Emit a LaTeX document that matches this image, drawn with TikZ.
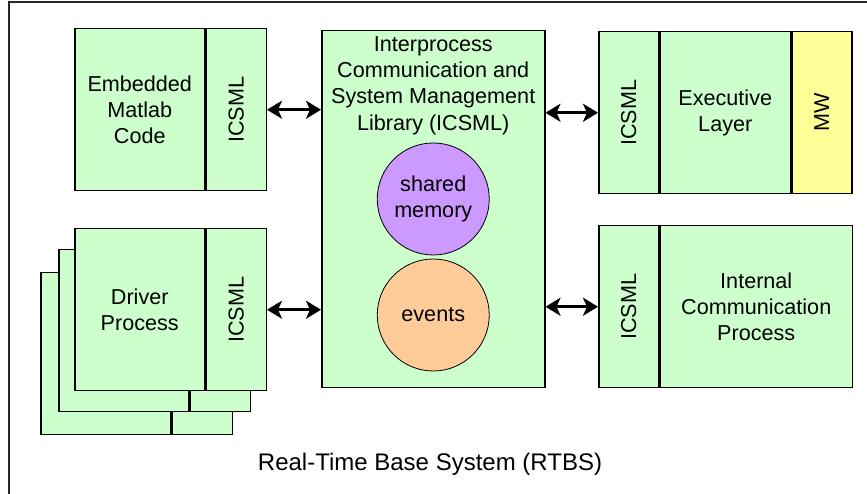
\documentclass[tikz,border=0pt]{standalone}
\usepackage{fontspec}
\setmainfont{Liberation Sans}
\usetikzlibrary{arrows.meta,calc}
\definecolor{BlockClr}{HTML}{CCFFCC}
\definecolor{MwClr}{HTML}{FFFF99}
\definecolor{ShmClr}{HTML}{CC99FF}
\definecolor{EvtClr}{HTML}{FFCC99}

\begin{document}
\begin{tikzpicture}[x=1pt,y=1pt,
  txt/.style={align=center,font=\fontsize{21.6}{26.3}\selectfont},
  blk/.style={txt,draw=black,line width=1.5pt,fill=BlockClr,inner sep=0pt},
  body/.style={blk,minimum height=162pt},
  strip/.style={blk,minimum width=60pt,minimum height=162pt},
  circ/.style={txt,circle,draw=black,line width=0.8pt,minimum size=112pt,inner sep=0pt},
  link/.style={{Stealth[length=15pt,width=18pt,inset=4pt]}-{Stealth[length=15pt,width=18pt,inset=4pt]},line width=3pt}]
\useasboundingbox (0,0) rectangle (867,494);

\draw[line width=2pt,draw=black!85] (9,0) |- (867,492);

% embedded matlab code
\node[body,minimum width=130pt,anchor=north west] (emb) at (74,466) {Embedded\\Matlab\\Code};
\node[strip,anchor=west] (embI) at (emb.east) {\rotatebox{90}{ICSML}};

% driver processes, stacked
\foreach \dx/\dy [count=\i] in {34/44,16/21}{
  \node[body,minimum width=130pt,anchor=north west] (drv\i) at ($(74,266)-(\dx,\dy)$) {};
  \node[strip,anchor=west] (drvI\i) at (drv\i.east) {};
}
\node[body,minimum width=130pt,anchor=north west] (drv) at (74,266) {Driver\\Process};
\node[strip,anchor=west] (drvI) at (drv.east) {\rotatebox{90}{ICSML}};

% library
\node[blk,minimum width=223pt,minimum height=357pt,anchor=north west] (ipc) at (321,464) {};
\node[txt] (ipcT) at ($(ipc.north)+(0,-55.5)$) {Interprocess\\Communication and\\System Management\\Library (ICSML)};
\node[circ,fill=ShmClr] (shm) at ($(ipc.north)+(0,-169)$) {shared\\memory};
\node[circ,fill=EvtClr] (evt) at ($(ipc.north)+(0,-285)$) {events};

% executive layer
\node[strip,anchor=north west] (exeI) at (598,463) {\rotatebox{90}{ICSML}};
\node[body,minimum width=130pt,anchor=west] (exe) at (exeI.east) {Executive\\Layer};
\node[strip,fill=MwClr,anchor=west] (mw) at (exe.east) {\rotatebox{90}{MW}};

% internal communication
\node[strip,anchor=north west] (icpI) at (598,269) {\rotatebox{90}{ICSML}};
\node[body,minimum width=192pt,anchor=west] (icp) at (icpI.east) {Internal\\Communication\\Process};

\node[txt,font=\fontsize{24}{29}\selectfont] (rtbs) at (430,30) {Real-Time Base System (RTBS)};

\draw[link] (embI.east) -- (embI.east -| ipc.west);
\draw[link] (drvI.east) -- (drvI.east -| ipc.west);
\draw[link] (ipc.east |- exeI.west) -- (exeI.west);
\draw[link] (ipc.east |- icpI.west) -- (icpI.west);

\end{tikzpicture}
\end{document}
